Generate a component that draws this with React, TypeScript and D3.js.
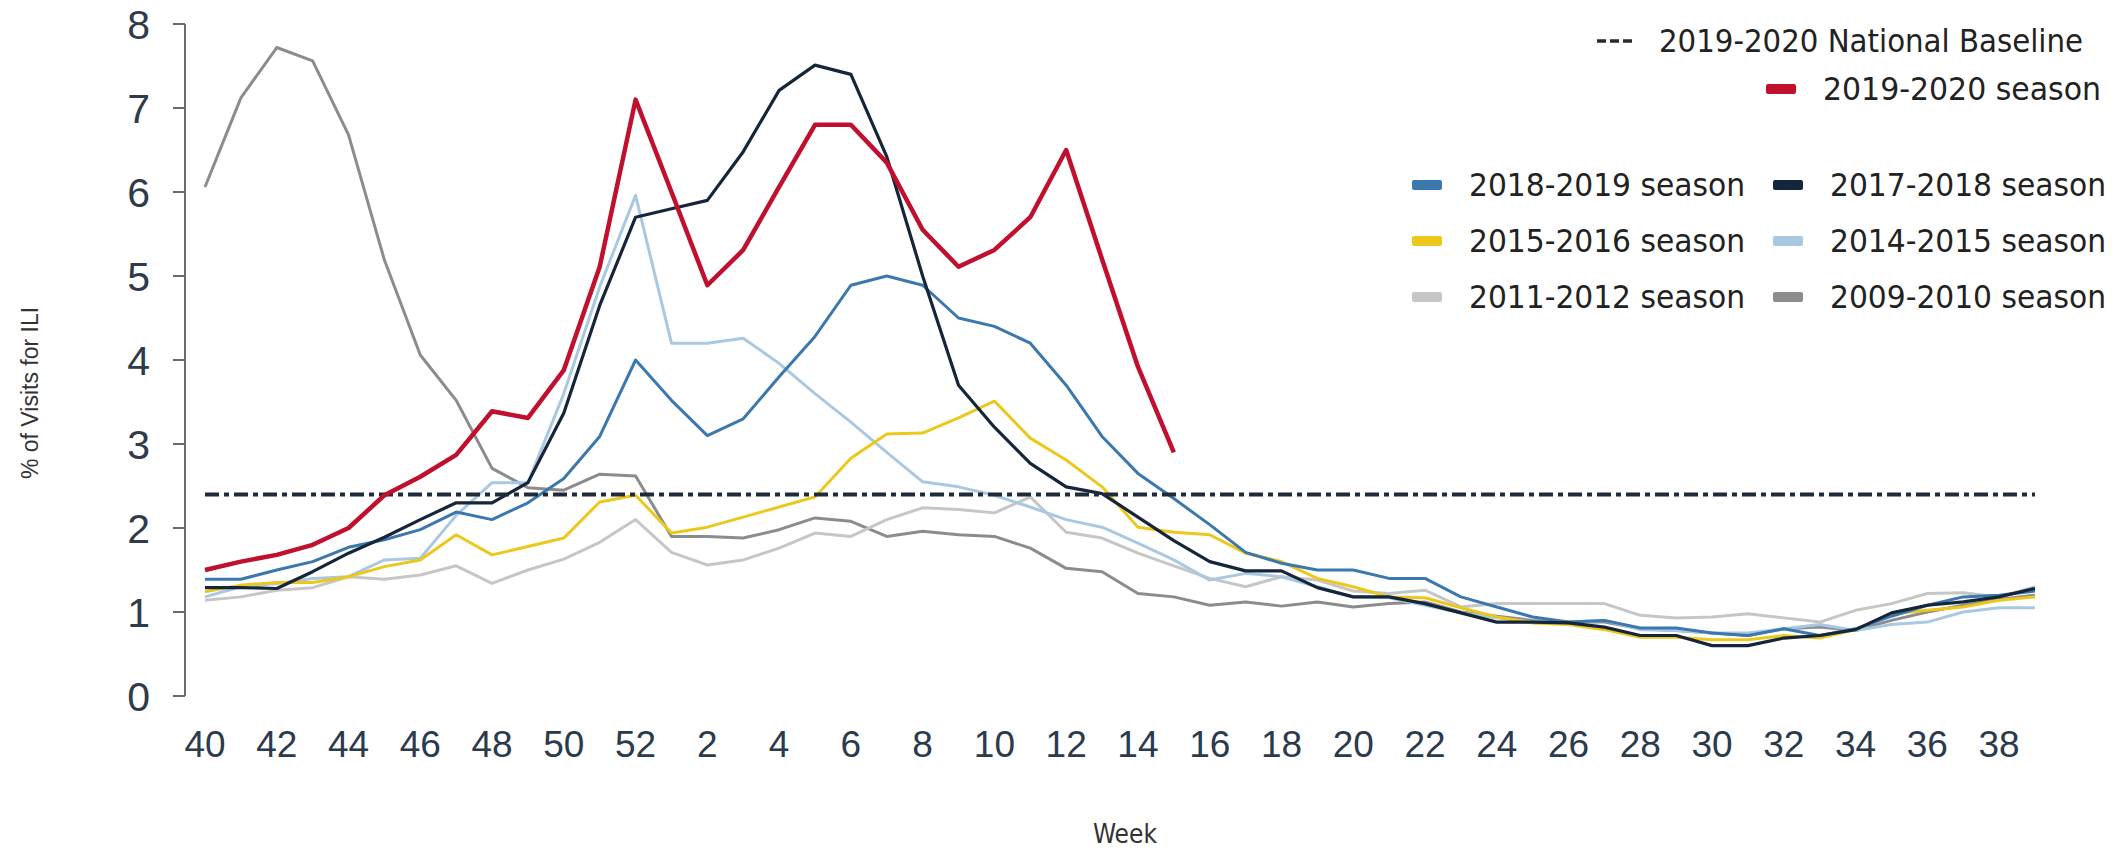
import React from 'react';
import * as d3 from 'd3';

// flu season weeks, 40 through 52 then 1 through 39
const weeks = [40, 41, 42, 43, 44, 45, 46, 47, 48, 49, 50, 51, 52,
  1, 2, 3, 4, 5, 6, 7, 8, 9, 10, 11, 12, 13, 14, 15, 16, 17, 18, 19, 20,
  21, 22, 23, 24, 25, 26, 27, 28, 29, 30, 31, 32, 33, 34, 35, 36, 37, 38, 39];

const weekTicks = [40, 42, 44, 46, 48, 50, 52, 2, 4, 6, 8, 10, 12, 14, 16, 18,
  20, 22, 24, 26, 28, 30, 32, 34, 36, 38];

const yTicks = [0, 1, 2, 3, 4, 5, 6, 7, 8];

const baseline = 2.4;

const season1920 = [1.50, 1.60, 1.68, 1.80, 2.0, 2.39, 2.61, 2.87, 3.39, 3.31, 3.88, 5.11, 7.10,
  6.0, 4.89, 5.31, 6.06, 6.80, 6.80, 6.35, 5.55, 5.11, 5.31, 5.70, 6.50, 5.2, 3.92, 2.9];

const season1819 = [1.39, 1.39, 1.50, 1.60, 1.77, 1.86, 1.98, 2.19, 2.10, 2.30, 2.59, 3.09, 4.0,
  3.52, 3.10, 3.30, 3.80, 4.28, 4.89, 5.0, 4.89, 4.5, 4.4, 4.2, 3.7, 3.09, 2.65, 2.35, 2.04,
  1.71, 1.58, 1.50, 1.50, 1.40, 1.40, 1.18, 1.06, 0.94, 0.88, 0.90, 0.81, 0.81, 0.75, 0.72,
  0.80, 0.72, 0.80, 0.95, 1.08, 1.18, 1.20, 1.25];

const season1718 = [1.29, 1.29, 1.28, 1.48, 1.70, 1.89, 2.10, 2.30, 2.30, 2.54, 3.37, 4.65, 5.70,
  5.80, 5.90, 6.48, 7.21, 7.51, 7.40, 6.42, 5.0, 3.70, 3.2, 2.77, 2.49, 2.41, 2.13, 1.85, 1.60,
  1.49, 1.49, 1.29, 1.18, 1.18, 1.10, 0.99, 0.88, 0.88, 0.87, 0.82, 0.72, 0.72, 0.60, 0.60,
  0.69, 0.72, 0.79, 0.99, 1.08, 1.12, 1.18, 1.28];

const season1516 = [1.24, 1.32, 1.35, 1.35, 1.42, 1.54, 1.62, 1.92, 1.68, 1.78, 1.88, 2.31, 2.39,
  1.94, 2.01, 2.13, 2.25, 2.37, 2.83, 3.12, 3.13, 3.31, 3.51, 3.07, 2.81, 2.49, 2.01, 1.95, 1.92,
  1.70, 1.60, 1.40, 1.30, 1.18, 1.17, 1.05, 0.94, 0.87, 0.85, 0.79, 0.70, 0.70, 0.67, 0.67,
  0.72, 0.69, 0.79, 0.98, 1.02, 1.06, 1.14, 1.18];

const season1415 = [1.18, 1.30, 1.34, 1.40, 1.42, 1.62, 1.64, 2.15, 2.54, 2.54, 3.6, 4.87, 5.96,
  4.2, 4.2, 4.26, 3.96, 3.6, 3.26, 2.9, 2.55, 2.49, 2.39, 2.25, 2.10, 2.01, 1.82, 1.62, 1.38,
  1.46, 1.42, 1.30, 1.18, 1.17, 1.08, 0.99, 0.93, 0.88, 0.88, 0.90, 0.79, 0.78, 0.75, 0.75,
  0.80, 0.85, 0.78, 0.85, 0.88, 1.0, 1.05, 1.05];

const season1112 = [1.14, 1.18, 1.26, 1.29, 1.42, 1.39, 1.44, 1.55, 1.34, 1.50, 1.63, 1.83, 2.10,
  1.71, 1.56, 1.62, 1.76, 1.94, 1.90, 2.10, 2.24, 2.22, 2.18, 2.37, 1.95, 1.88, 1.70, 1.55, 1.40,
  1.30, 1.42, 1.38, 1.25, 1.22, 1.26, 1.06, 1.10, 1.10, 1.10, 1.10, 0.96, 0.93, 0.94, 0.98,
  0.93, 0.88, 1.02, 1.10, 1.22, 1.23, 1.18, 1.30];

const season0910 = [6.06, 7.12, 7.72, 7.56, 6.68, 5.19, 4.06, 3.52, 2.71, 2.48, 2.45, 2.64, 2.62,
  1.90, 1.90, 1.88, 1.98, 2.12, 2.08, 1.90, 1.96, 1.92, 1.90, 1.76, 1.52, 1.48, 1.22, 1.18, 1.08,
  1.12, 1.07, 1.12, 1.06, 1.10, 1.12, 1.0, 0.95, 0.90, 0.88, 0.88, 0.80, 0.78, 0.75, 0.72,
  0.80, 0.82, 0.78, 0.90, 1.0, 1.08, 1.15, 1.2];

const W = 2126;
const H = 853;

// drawing order: back to front
const series = [
  { name: '2009-2010 season', values: season0910, color: '#8c8c8c', width: 3 },
  { name: '2011-2012 season', values: season1112, color: '#c6c6c6', width: 3 },
  { name: '2014-2015 season', values: season1415, color: '#a9c9e2', width: 3 },
  { name: '2015-2016 season', values: season1516, color: '#ecc81c', width: 3 },
  { name: '2018-2019 season', values: season1819, color: '#3b78ad', width: 3 },
  { name: '2017-2018 season', values: season1718, color: '#15253a', width: 3.2 },
];

const legendGrid = [
  ['2018-2019 season', '#3b78ad'], ['2017-2018 season', '#15253a'],
  ['2015-2016 season', '#ecc81c'], ['2014-2015 season', '#a9c9e2'],
  ['2011-2012 season', '#c6c6c6'], ['2009-2010 season', '#8c8c8c'],
];

const legendFont = '"Liberation Sans Narrow", "DejaVu Sans Condensed", "Liberation Sans", sans-serif';
const axisFont = '"Liberation Sans", Arial, sans-serif';

export default function App() {
  const x = d3.scalePoint<number>().domain(weeks).range([205, 2035]);
  const y = d3.scaleLinear().domain([0, 8]).range([696, 24]);

  const line = d3.line<number>()
    .x((_, i) => x(weeks[i]) as number)
    .y(d => y(d));

  const axisX = 185;

  return (
    <svg width={W} height={H} style={{ position: 'absolute', left: 0, top: 0, background: '#fff' }}>
      {/* y axis */}
      <line x1={axisX} x2={axisX} y1={y(8)} y2={y(0)} stroke="#6b6b6b" strokeWidth={2} />
      {yTicks.map(t => (
        <g key={t}>
          <line x1={axisX - 12} x2={axisX} y1={y(t)} y2={y(t)} stroke="#6b6b6b" strokeWidth={2} />
          <text x={150} y={y(t)} dy="0.36em" textAnchor="end" fontFamily={axisFont}
            fontSize={41} fill="#2f3b4a">{t}</text>
        </g>
      ))}
      <text transform={`translate(38,${393}) rotate(-90)`} textAnchor="middle" fontFamily={axisFont}
        fontSize={23} fill="#333">% of Visits for ILI</text>

      {/* x tick labels */}
      {weekTicks.map(w => (
        <text key={w} x={x(w)} y={757} textAnchor="middle" fontFamily={axisFont}
          fontSize={37} fill="#2b3a4c">{w}</text>
      ))}
      <text x={1125} y={843} textAnchor="middle" fontFamily={legendFont} fontSize={26}
        fill="#333">Week</text>

      {/* season lines */}
      {series.map(s => (
        <path key={s.name} d={line(s.values) as string} fill="none" stroke={s.color}
          strokeWidth={s.width} strokeLinejoin="round" />
      ))}

      {/* national baseline */}
      <line x1={x(40)} x2={x(39)} y1={y(baseline)} y2={y(baseline)} stroke="#1f2a3a"
        strokeWidth={4} strokeDasharray="14 5 5 5" />

      {/* current season */}
      <path d={line(season1920) as string} fill="none" stroke="#c0102e" strokeWidth={4.5}
        strokeLinejoin="round" />

      {/* top legend */}
      <line x1={1597} x2={1633} y1={41} y2={41} stroke="#2a2a2a" strokeWidth={3.5}
        strokeDasharray="9 4" />
      <text x={1659} y={52} fontFamily={legendFont} fontSize={32} fill="#222"
        textLength={424} lengthAdjust="spacingAndGlyphs">2019-2020 National Baseline</text>
      <rect x={1766} y={84} width={30} height={10} rx={2} fill="#c0102e" />
      <text x={1823} y={100} fontFamily={legendFont} fontSize={32} fill="#222"
        textLength={278} lengthAdjust="spacingAndGlyphs">2019-2020 season</text>

      {legendGrid.map(([label, color], i) => {
        const col = i % 2;
        const row = Math.floor(i / 2);
        const sx = col === 0 ? 1412 : 1773;
        const tx = col === 0 ? 1469 : 1830;
        const cy = 185 + row * 56;
        return (
          <g key={label}>
            <rect x={sx} y={cy - 5} width={30} height={10} rx={2} fill={color} />
            <text x={tx} y={cy + 11} fontFamily={legendFont} fontSize={32} fill="#222"
              textLength={276} lengthAdjust="spacingAndGlyphs">{label}</text>
          </g>
        );
      })}
    </svg>
  );
}
